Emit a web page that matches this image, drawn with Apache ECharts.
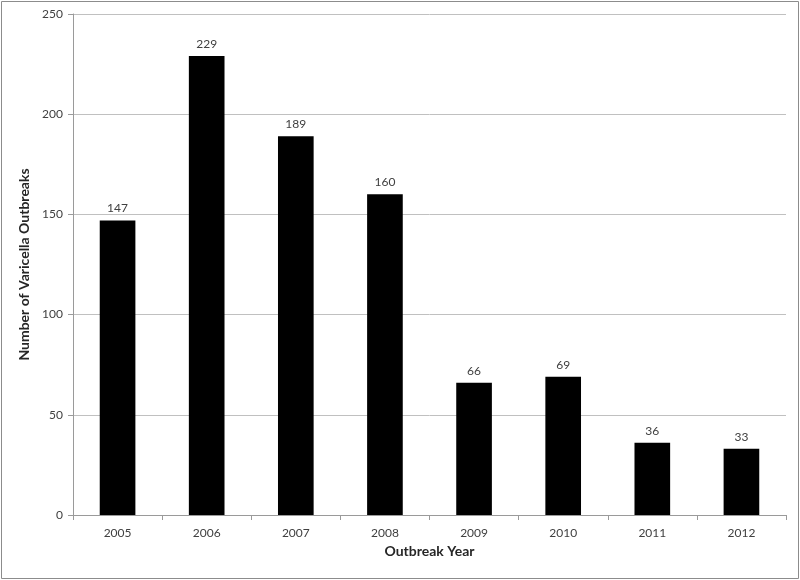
<!DOCTYPE html>
<html>
<head>
<meta charset="utf-8">
<script src="https://cdn.jsdelivr.net/npm/echarts@6/dist/echarts.min.js"></script>
<style>
html, body { margin: 0; padding: 0; background: #fff; }
#chart { width: 800px; height: 580px; }
</style>
</head>
<body>
<div id="chart"></div>
<script>
var years = ["2005", "2006", "2007", "2008", "2009", "2010", "2011", "2012"];
var outbreaks = [147, 229, 189, 160, 66, 69, 36, 33];
var yTicks = [0, 50, 100, 150, 200, 250];

var myChart = echarts.init(document.getElementById("chart"));
myChart.setOption({
	animation: false,
	textStyle: { fontFamily: "Lato" },
	graphic: [
		{
			type: "rect",
			shape: { x: 1.5, y: 1.5, width: 797, height: 577 },
			style: { fill: "none", stroke: "#8c8c8c", lineWidth: 1 },
		},
	],
	grid: {
		left: 73,
		right: 14,
		top: 14,
		bottom: 65,
	},
	xAxis: {
		type: "category",
		data: years,
		name: "Outbreak Year",
		nameLocation: "middle",
		nameGap: 29,
		nameTextStyle: { color: "#262626", fontSize: 14, fontWeight: "bold" },
		axisLine: { lineStyle: { color: "#9a9a9a" } },
		axisTick: { show: true, length: 5, lineStyle: { color: "#9a9a9a" } },
		axisLabel: { color: "#404040", fontSize: 12, margin: 12 },
	},
	yAxis: {
		type: "value",
		min: yTicks[0],
		max: yTicks[yTicks.length - 1],
		interval: 50,
		name: "Number of Varicella Outbreaks",
		nameLocation: "middle",
		nameGap: 40,
		nameTextStyle: { color: "#262626", fontSize: 14, fontWeight: "bold" },
		axisLine: { show: true, lineStyle: { color: "#9a9a9a" } },
		axisTick: { show: true, length: 5, lineStyle: { color: "#9a9a9a" } },
		axisLabel: { color: "#404040", fontSize: 12, margin: 10 },
		splitLine: { lineStyle: { color: "#c0c0c0" } },
	},
	series: [
		{
			type: "bar",
			data: outbreaks,
			barWidth: "40%",
			itemStyle: { color: "#000" },
			label: {
				show: true,
				position: "top",
				distance: 6,
				color: "#404040",
				fontSize: 12,
			},
		},
	],
});
</script>
</body>
</html>
